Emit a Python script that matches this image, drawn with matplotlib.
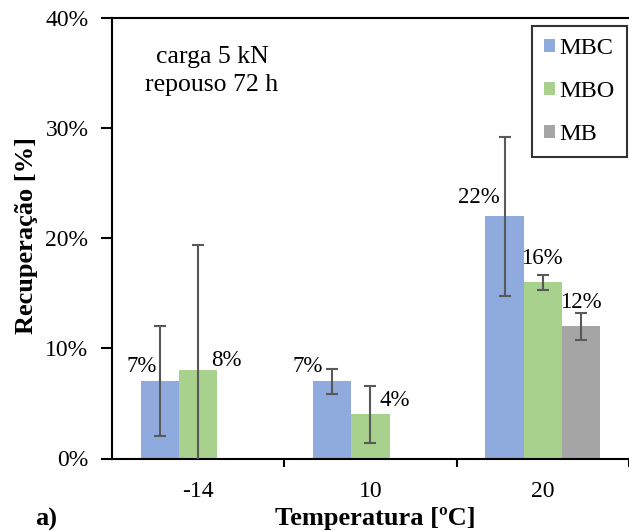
import numpy as np
import matplotlib
matplotlib.use("Agg")
import matplotlib.pyplot as plt

plt.rcParams['font.family'] = ['Liberation Serif', 'DejaVu Serif']

categories = ["-14", "10", "20"]
series = ["MBC", "MBO", "MB"]
mbc = [7, 7, 22]
mbo = [8, 4, 16]
mb = [np.nan, np.nan, 12]
mbc_err = [5.0, 1.15, 7.2]
mbo_err = [11.4, 2.6, 0.7]
mb_err = [np.nan, np.nan, 1.2]
yticks = [0, 10, 20, 30, 40]

values = [mbc, mbo, mb]
errors = [mbc_err, mbo_err, mb_err]
colors = ["#8FAADC", "#A9D18E", "#A5A5A5"]
# label offsets in pixels (dx, dy) from bar top-center
label_offsets = [
    [(-18, 15), (-25, 15), (-26, 19)],
    [(28, 10), (24, 14), (-1, 24)],
    [(0, 0), (0, 0), (0, 24)],
]

W, H = 629, 531
fig = plt.figure(figsize=(W / 100, H / 100), dpi=100)
ax = fig.add_axes([112 / W, 1 - 458.5 / H, 1 - 112 / W, (458.5 - 18) / H])

x = np.arange(len(categories))
width = 0.222
for k, (vals, errs, col, name) in enumerate(zip(values, errors, colors, series)):
    pos = x + (k - 1) * width
    ax.bar(pos, vals, width, color=col, label=name, zorder=2)
    ax.errorbar(pos, vals, yerr=errs, fmt='none', ecolor='#595959',
                elinewidth=1.5, capsize=4.3, capthick=1.5, zorder=3)
    for i, v in enumerate(vals):
        if np.isnan(v):
            continue
        dx, dy = label_offsets[k][i]
        ax.annotate(f"{v:.0f}%", xy=(pos[i], v), xytext=(dx, dy),
                    textcoords='offset pixels', ha='center', va='center',
                    fontsize=16.5, color='black', zorder=4)

ax.set_ylim(0, 40)
ax.set_yticks(yticks)
ax.set_yticklabels([f"{t}%" for t in yticks], fontsize=17)
ax.set_xlim(-0.5, -0.5 + (W - 112) / 175.5)
ax.set_xticks(x)
ax.set_xticklabels(categories, fontsize=17)
ax.tick_params(axis='x', length=0, pad=16)
ax.set_xticks([0.5, 1.5, 2.5], minor=True)
ax.tick_params(axis='x', which='minor', length=6, width=1.5, direction='out')
ax.tick_params(axis='y', length=8, width=1.5, direction='out', pad=9)

for s in ['left', 'bottom', 'top']:
    ax.spines[s].set_linewidth(1.5)
    ax.spines[s].set_color('black')
ax.spines['right'].set_visible(False)

ax.set_ylabel("Recuperação [%]", fontsize=19, fontweight='bold')
ax.yaxis.set_label_coords((38 - 112) / (W - 112), (458.5 - 235) / 440.5)
ax.set_xlabel("Temperatura [ºC]", fontsize=19, fontweight='bold')
ax.xaxis.set_label_coords((375.5 - 112) / (W - 112), -(507 - 458.5) / 440.5)

fig.text(212 / W, 1 - 71 / H, "carga 5 kN\nrepouso 72 h", ha='center', va='center',
         fontsize=18.5, linespacing=1.4)
fig.text(35 / W, 1 - 519 / H, "a)", ha='left', va='center', fontsize=19, fontweight='bold')

leg = ax.legend(loc='upper right', bbox_to_anchor=(627 / W, 1 - 26 / H),
                bbox_transform=fig.transFigure, fontsize=17.5, frameon=True,
                fancybox=False, edgecolor='black', handlelength=0.45, handleheight=0.45,
                handletextpad=0.2, labelspacing=0.9, borderpad=0.5, borderaxespad=0)
leg.get_frame().set_linewidth(1.5)

fig.savefig("out.png", dpi=100)
